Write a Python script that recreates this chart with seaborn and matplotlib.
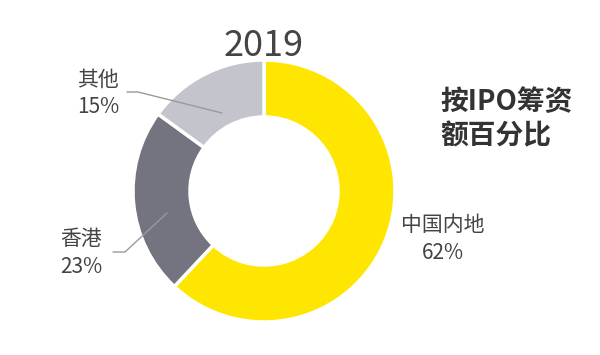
import matplotlib
matplotlib.use("Agg")
import matplotlib.pyplot as plt
import seaborn as sns

sns.set_theme(style="white")
plt.rcParams['font.family'] = ['Noto Sans CJK SC', 'DejaVu Sans']

# data
regions = ['中国内地', '香港', '其他']
shares = [62, 23, 15]
colors = ['#FFE600', '#747480', '#C4C4CD']
year = '2019'
subtitle = '按IPO筹资\n额百分比'

W, H = 600, 355
fig = plt.figure(figsize=(6, 3.55), dpi=100)
ax = fig.add_axes([0, 0, 1, 1])

def py(y):
    # pixel row (from top) -> data y
    return H - y

cx, cy, r = 264, py(191), 131
ax.pie(shares, colors=colors, startangle=90, counterclock=False,
       center=(cx, cy), radius=r, frame=True,
       wedgeprops=dict(width=57, edgecolor='white', linewidth=2.5))
ax.set_xlim(0, W)
ax.set_ylim(0, H)
ax.set_aspect('equal')
ax.axis('off')

txt = '#444444'
ax.text(264, py(46), year, ha='center', va='center', fontsize=26, color=txt)
ax.text(440, py(119), subtitle, ha='left', va='center', fontsize=20,
        fontweight='bold', color='#333333', linespacing=1.3)

lab = dict(fontsize=15, color=txt, linespacing=1.3)
ax.text(98, py(93), '其他\n15%', ha='center', va='center', **lab)
ax.text(81, py(253), '香港\n23%', ha='center', va='center', **lab)
ax.text(443, py(239), '中国内地\n62%', ha='center', va='center', **lab)

# leader lines
lc = dict(color='#9a9a9a', lw=1)
ax.plot([127, 138, 222], [py(92), py(92), py(113)], **lc)
ax.plot([113, 125, 167], [py(252), py(252), py(213)], **lc)

fig.savefig('out.png', dpi=100, facecolor='white')
